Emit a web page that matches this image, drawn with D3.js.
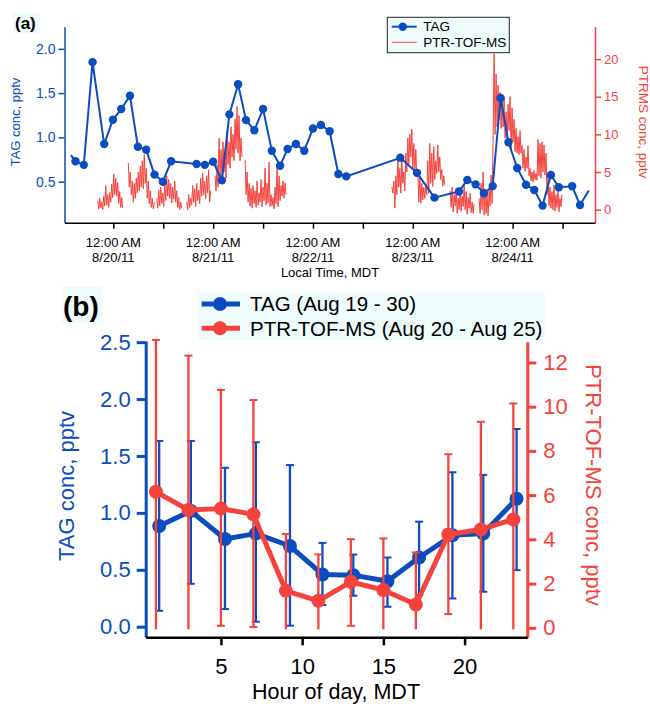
<!DOCTYPE html>
<html>
<head>
<meta charset="utf-8">
<script src="https://cdn.jsdelivr.net/npm/d3@7"></script>
<style>
  body { margin: 0; background: #fff; }
  text { font-family: "Liberation Sans", Arial, Helvetica, sans-serif; }
</style>
</head>
<body>
<svg id="chart" width="650" height="704"></svg>
<script>
const BLUE = '#0b4dbf'
const RED = '#f5423d'
const TINT = '#eefcfc'

// ---------------------------------------------------------------
// Panel (a): time series, hours since 8/19/11 00:00 MDT
// ---------------------------------------------------------------
const tagHours = [13.8, 14.9, 16.9, 19.0, 21.8, 23.9, 25.9, 28.0, 29.9, 31.9, 33.9, 35.9, 37.9,
  44.0, 46.0, 48.0, 50.1, 51.9, 54.0, 55.9, 57.9, 60.0, 62.1, 64.1, 65.9, 67.9, 69.9, 72.0,
  73.9, 76.0, 78.1, 80.0, 93.0, 97.0, 101.2, 107.1, 109.1, 111.1, 113.1, 115.2, 117.1, 119.0,
  121.1, 123.2, 125.2, 127.2, 129.2, 131.1, 134.3, 136.2, 138.3]
const tagConc = [0.80, 0.73, 0.69, 1.85, 0.925, 1.20, 1.32, 1.47, 0.895, 0.86, 0.58, 0.50, 0.73,
  0.70, 0.69, 0.725, 0.515, 1.26, 1.60, 1.195, 1.08, 1.32, 0.85, 0.68, 0.87, 0.925, 0.85, 1.10,
  1.14, 1.07, 0.587, 0.56, 0.77, 0.60, 0.32, 0.39, 0.52, 0.47, 0.37, 0.45, 1.445, 0.945,
  0.655, 0.466, 0.406, 0.23, 0.576, 0.437, 0.448, 0.237, 0.40]

// PTR-TOF-MS trace: pieces of regularly sampled data (start hour, 0.24 h step)
const ptrStep = 0.24
const ptrStart = [20.26, 27.6, 34.44, 41.64, 48.46, 55.68, 90.96, 104.98, 111.94]
const ptrSeg1 = [1.2, 0.1, 1.5, 0.2, 1.0, 0.0, 1.8, 0.5, 3.2, 0.6, 2.0, 0.3, 2.3, 1.0, 3.4, 1.6, 4.7, 2.0, 4.2, 1.8, 3.6, 0.8, 2.4, 0.3, 1.6, 0.2]
const ptrSeg2 = [6.2, 3.0, 5.0, 2.0, 3.8, 1.0, 3.5, 1.5, 4.2, 2.2, 5.0, 2.5, 5.8, 3.0, 6.5, 2.8, 7.3, 3.5, 5.5, 1.5, 3.8, 0.8, 2.5, 0.3, 1.5, 0.1, 1.0]
const ptrSeg3 = [1.5, 0.2, 2.6, 0.5, 3.0, 0.8, 2.2, 0.4, 3.6, 1.2, 4.5, 1.8, 4.0, 1.5, 3.5, 0.9, 3.0, 1.4, 3.8, 1.0, 2.5, 0.3, 1.6, 0.0, 1.0, 0.2]
const ptrSeg4 = [1.0, 0.0, 2.0, 0.3, 1.5, 0.6, 3.2, 1.0, 2.8, 0.4, 3.5, 1.2, 2.6, 0.8, 4.2, 1.8, 4.8, 2.0, 3.8, 1.5, 4.5, 2.2, 5.3, 1.0, 2.5]
const ptrSeg5 = [4.5, 2.5, 6.0, 3.0, 9.5, 4.5, 8.0, 3.8, 9.0, 5.0, 7.5, 4.2, 10.5, 6.0, 9.0, 5.5, 11.0, 7.0, 10.0, 6.5, 12.0, 8.0, 13.7, 7.5, 12.5, 6.5, 9.5, 7.0]
const ptrSeg6 = [6.6, 2.0, 5.0, 1.0, 3.5, 0.5, 2.8, 0.2, 3.2, 0.8, 2.5, 0.3, 3.8, 0.6, 2.2, 1.0, 4.0, 0.4, 3.0, 1.2, 5.5, 0.6, 3.5, 0.9, 6.3, 0.4, 2.0, 0.5, 1.6, 0.1, 3.0, 0.8, 5.7, 0.4, 4.5, 1.2, 3.2, 1.8, 3.8, 1.5, 3.5, 2.0]
const ptrSeg7 = [3.0, 2.2, 3.8, 0.2, 4.5, 2.0, 7.0, 3.0, 5.5, 2.2, 6.6, 3.5, 5.0, 2.5, 7.5, 5.0, 9.5, 6.0, 10.0, 7.0, 10.7, 5.5, 8.8, 4.5, 8.0, 4.4, 5.3, 1.0, 4.2, 0.9, 3.5, 1.3, 3.0, 1.5, 3.4, 2.0, 6.5, 2.2, 8.8, 3.5, 7.5, 3.1, 8.4, 4.0, 6.5, 4.8, 8.6, 5.0, 7.0, 4.0, 5.3, 3.1, 4.5, 3.3]
const ptrSeg8 = [2.5, 0.3, 3.0, -0.3, 2.0, 0.5, 2.8, -0.5, 1.5, 0.0, 2.6, -0.2, 1.8, 0.4, 3.2, 0.0, 2.4, -0.6, 1.6, 0.2, 2.2, -0.4, 1.0, -0.5, 0.8]
const ptrSeg9 = [1.5, -0.5, 3.5, 0.0, 5.0, -0.7, 2.8, -0.5, 2.0, -0.8, 2.6, 0.5, 4.6, 0.8, 9.0, 20.7, 10.0, 18.0, 11.0, 16.5, 12.0, 15.6, 10.8, 14.5, 11.0, 14.8, 9.5, 13.0, 9.0, 14.0, 10.5, 15.0, 8.0, 13.5, 9.0, 12.0, 7.7, 10.8, 7.5, 9.7, 7.3, 10.5, 7.5, 8.6, 5.5, 8.0, 5.1, 7.0, 5.5, 8.5, 4.5, 5.5, 3.8, 5.0, 3.7, 5.2, 4.0, 4.8, 3.9, 9.3, 4.5, 8.8, 4.2, 9.0, 5.0, 8.6, 4.6, 7.5, 2.0, 4.6, 0.5, 3.0, 0.2, 2.4, 0.0, 3.3, -0.2, 2.0, 0.3, 2.8, -0.3, 1.5, 0.4, 2.0]
const ptrSegs = [ptrSeg1, ptrSeg2, ptrSeg3, ptrSeg4, ptrSeg5, ptrSeg6, ptrSeg7, ptrSeg8, ptrSeg9]

const midnightHours = [24, 48, 72, 96, 120]
const midnightDates = ['8/20/11', '8/21/11', '8/22/11', '8/23/11', '8/24/11']
const noonHours = [36, 60, 84, 108, 132]
const tagTicksA = [0.5, 1.0, 1.5, 2.0]
const ptrTicksA = [0, 5, 10, 15, 20]

// ---------------------------------------------------------------
// Panel (b): diurnal means, hour of day
// ---------------------------------------------------------------
const tagHour = [1.2, 3.15, 5.25, 7.15, 9.25, 11.25, 13.15, 15.25, 17.2, 19.25, 21.15, 23.2]
const tagMean = [0.885, 1.016, 0.771, 0.818, 0.709, 0.459, 0.453, 0.40, 0.608, 0.803, 0.818, 1.124]
const tagHi = [1.632, 1.632, 1.396, 1.62, 1.42, 0.736, 0.634, 0.608, 0.923, 1.357, 1.334, 1.737]
const tagLo = [0.14, 0.377, 0.155, 0.044, 0.009, 0.19, 0.272, 0.175, 0.278, 0.248, 0.307, 0.497]

const ptrHour = [1, 3, 5, 7, 9, 11, 13, 15, 17, 19, 21, 23]
const ptrMean = [6.15, 5.33, 5.39, 5.13, 1.67, 1.22, 2.08, 1.71, 1.05, 4.22, 4.45, 4.9]
const ptrHi = [13.02, 12.31, 10.76, 10.3, 4.24, 3.32, 4.01, 4.04, 3.41, 7.85, 9.32, 10.15]
const ptrLo = [-0.07, -0.07, 0.09, 0.03, -0.07, -0.07, 0.09, -0.07, -0.07, 0.62, -0.07, -0.07]

const tagTicksB = [0, 0.5, 1.0, 1.5, 2.0, 2.5]
const ptrTicksB = [0, 2, 4, 6, 8, 10, 12]
const hourTicksB = [5, 10, 15, 20]

// ---------------------------------------------------------------
const svg = d3.select('#chart')

function styleAxis(g, color, width, fontSize) {
    g.select('.domain').attr('stroke', color).attr('stroke-width', width)
    g.selectAll('.tick line').attr('stroke', color).attr('stroke-width', width)
    g.selectAll('.tick text').attr('fill', color).style('font-size', fontSize + 'px')
        .style('font-family', '"Liberation Sans", Arial, sans-serif')
}

// ===================== Panel (a) =====================
const xA = d3.scaleLinear().domain([12.26, 139.8]).range([64.5, 595])
const yA = d3.scaleLinear().domain([0.037, 2.25]).range([222.7, 26.7])
const yA2 = d3.scaleLinear().domain([-1.73, 24.3]).range([222.7, 26.7])

const gA = svg.append('g')

// PTR trace (drawn first, TAG on top)
const ptrLine = d3.line().x(d => xA(d[0])).y(d => yA2(d[1]))
ptrSegs.forEach((seg, k) => {
    const pts = seg.map((v, i) => [ptrStart[k] + i * ptrStep, v])
    gA.append('path').attr('d', ptrLine(pts))
        .attr('fill', 'none').attr('stroke', RED).attr('stroke-width', 1)
})

const tagPts = tagHours.map((h, i) => [h, tagConc[i]])
gA.append('path')
    .attr('d', d3.line().x(d => xA(d[0])).y(d => yA(d[1]))(tagPts))
    .attr('fill', 'none').attr('stroke', BLUE).attr('stroke-width', 2)
gA.selectAll('circle.tag').data(tagPts.slice(1, -1)).join('circle')
    .attr('cx', d => xA(d[0])).attr('cy', d => yA(d[1])).attr('r', 4.2).attr('fill', BLUE)

// axes
const axLA = gA.append('g').attr('transform', 'translate(64.5,0)')
    .call(d3.axisLeft(yA).tickValues(tagTicksA).tickFormat(d3.format('.1f')).tickSize(6).tickSizeOuter(0).tickPadding(3))
styleAxis(axLA, BLUE, 1.5, 14)

const axRA = gA.append('g').attr('transform', 'translate(595,0)')
    .call(d3.axisRight(yA2).tickValues(ptrTicksA).tickSize(6).tickSizeOuter(0).tickPadding(3))
styleAxis(axRA, RED, 1.5, 13)

const axBA = gA.append('g').attr('transform', 'translate(0,222.7)')
    .call(d3.axisBottom(xA).tickValues(midnightHours.concat(noonHours)).tickFormat('').tickSize(6).tickSizeOuter(0))
styleAxis(axBA, '#000', 1.5, 13)

midnightHours.forEach((h, i) => {
    const t = gA.append('text').attr('text-anchor', 'middle').style('font-size', '13px').attr('fill', '#000')
    t.append('tspan').attr('x', xA(h)).attr('y', 247).text('12:00 AM')
    t.append('tspan').attr('x', xA(h)).attr('y', 262).text(midnightDates[i])
})
gA.append('text').attr('x', 330).attr('y', 277).attr('text-anchor', 'middle')
    .style('font-size', '13px').text('Local Time, MDT')

gA.append('text').attr('transform', 'translate(20,122) rotate(-90)').attr('text-anchor', 'middle')
    .style('font-size', '13px').attr('fill', BLUE).text('TAG conc, pptv')
gA.append('text').attr('transform', 'translate(638.5,122) rotate(90)').attr('text-anchor', 'middle')
    .style('font-size', '13.5px').attr('fill', RED).text('PTRMS conc, pptv')

// panel label
gA.append('rect').attr('x', 13).attr('y', 13).attr('width', 27).attr('height', 20).attr('fill', TINT)
gA.append('text').attr('x', 15).attr('y', 29).style('font-size', '17px').style('font-weight', 'bold').text('(a)')

// legend
const lgA = gA.append('g')
lgA.append('rect').attr('x', 387.3).attr('y', 17.3).attr('width', 122).attr('height', 35.4)
    .attr('fill', TINT).attr('stroke', '#222').attr('stroke-width', 1)
lgA.append('line').attr('x1', 391.7).attr('x2', 416.7).attr('y1', 26.7).attr('y2', 26.7).attr('stroke', BLUE).attr('stroke-width', 2)
lgA.append('circle').attr('cx', 402.7).attr('cy', 26.7).attr('r', 4.2).attr('fill', BLUE)
lgA.append('text').attr('x', 423.3).attr('y', 31).style('font-size', '13.5px').text('TAG')
lgA.append('line').attr('x1', 391.7).attr('x2', 416.7).attr('y1', 42.3).attr('y2', 42.3).attr('stroke', RED).attr('stroke-width', 1)
lgA.append('text').attr('x', 423.3).attr('y', 47).style('font-size', '13.5px').text('PTR-TOF-MS')

// ===================== Panel (b) =====================
const xB = d3.scaleLinear().domain([0.37, 23.86]).range([145.7, 527.3])
const yB = d3.scaleLinear().domain([-0.093, 2.51]).range([637.3, 341])
const yB2 = d3.scaleLinear().domain([-0.43, 12.94]).range([637.3, 341.7])

const gB = svg.append('g')

// bars whose low end sits at ~0 are drawn without a bottom cap, as in the original
function errorBars(g, xs, los, his, xScale, yScale, color) {
    xs.forEach((h, i) => {
        const x = xScale(h)
        const lo = Math.max(los[i], -0.07)
        g.append('line').attr('x1', x).attr('x2', x).attr('y1', yScale(his[i])).attr('y2', yScale(lo))
            .attr('stroke', color).attr('stroke-width', 2.3)
        g.append('line').attr('x1', x - 4).attr('x2', x + 4).attr('y1', yScale(his[i])).attr('y2', yScale(his[i]))
            .attr('stroke', color).attr('stroke-width', 2)
        if (los[i] > 0) {
            g.append('line').attr('x1', x - 4).attr('x2', x + 4).attr('y1', yScale(lo)).attr('y2', yScale(lo))
                .attr('stroke', color).attr('stroke-width', 2)
        }
    })
}

// TAG series
errorBars(gB, tagHour, tagLo, tagHi, xB, yB, BLUE)
const tagB = tagHour.map((h, i) => [h, tagMean[i]])
gB.append('path').attr('d', d3.line().x(d => xB(d[0])).y(d => yB(d[1]))(tagB))
    .attr('fill', 'none').attr('stroke', BLUE).attr('stroke-width', 5).attr('stroke-linejoin', 'round')
gB.selectAll('circle.tagb').data(tagB).join('circle')
    .attr('cx', d => xB(d[0])).attr('cy', d => yB(d[1])).attr('r', 7).attr('fill', BLUE)

// PTR series
errorBars(gB, ptrHour, ptrLo, ptrHi, xB, yB2, RED)
const ptrB = ptrHour.map((h, i) => [h, ptrMean[i]])
gB.append('path').attr('d', d3.line().x(d => xB(d[0])).y(d => yB2(d[1]))(ptrB))
    .attr('fill', 'none').attr('stroke', RED).attr('stroke-width', 5).attr('stroke-linejoin', 'round')
gB.selectAll('circle.ptrb').data(ptrB).join('circle')
    .attr('cx', d => xB(d[0])).attr('cy', d => yB2(d[1])).attr('r', 7).attr('fill', RED)

// axes
const axLB = gB.append('g').attr('transform', 'translate(145.7,0)')
    .call(d3.axisLeft(yB).tickValues(tagTicksB).tickFormat(d3.format('.1f')).tickSize(9).tickSizeOuter(0).tickPadding(6))
styleAxis(axLB, BLUE, 3, 22)

const axRB = gB.append('g').attr('transform', 'translate(527.3,0)')
    .call(d3.axisRight(yB2).tickValues(ptrTicksB).tickSize(9).tickSizeOuter(0).tickPadding(7))
styleAxis(axRB, RED, 3, 22)

const axBB = gB.append('g').attr('transform', 'translate(0,637.3)')
    .call(d3.axisBottom(xB).tickValues(hourTicksB).tickSize(8).tickSizeOuter(0).tickPadding(13))
styleAxis(axBB, '#000', 2.5, 22)

gB.append('text').attr('x', 336).attr('y', 699).attr('text-anchor', 'middle')
    .style('font-size', '21.5px').text('Hour of day, MDT')
gB.append('text').attr('transform', 'translate(74,486) rotate(-90)').attr('text-anchor', 'middle')
    .style('font-size', '22px').attr('fill', BLUE).text('TAG conc, pptv')
gB.append('text').attr('transform', 'translate(586,485) rotate(90)').attr('text-anchor', 'middle')
    .style('font-size', '22px').attr('fill', RED).text('PTR-TOF-MS conc, pptv')

// panel label
gB.append('rect').attr('x', 62).attr('y', 287).attr('width', 41).attr('height', 36).attr('fill', TINT)
gB.append('text').attr('x', 63).attr('y', 316).style('font-size', '28px').style('font-weight', 'bold').text('(b)')

// legend
const lgB = gB.append('g')
lgB.append('rect').attr('x', 198.3).attr('y', 291.7).attr('width', 347).attr('height', 48.3).attr('fill', TINT)
lgB.append('line').attr('x1', 201.7).attr('x2', 240).attr('y1', 304).attr('y2', 304).attr('stroke', BLUE).attr('stroke-width', 5)
lgB.append('circle').attr('cx', 220).attr('cy', 304).attr('r', 7).attr('fill', BLUE)
lgB.append('text').attr('x', 250).attr('y', 311).style('font-size', '20.5px').text('TAG (Aug 19 - 30)')
lgB.append('line').attr('x1', 201.7).attr('x2', 240).attr('y1', 328.3).attr('y2', 328.3).attr('stroke', RED).attr('stroke-width', 5)
lgB.append('circle').attr('cx', 220).attr('cy', 328.3).attr('r', 7).attr('fill', RED)
lgB.append('text').attr('x', 250).attr('y', 335.5).style('font-size', '20.5px').text('PTR-TOF-MS (Aug 20 - Aug 25)')
</script>
</body>
</html>
